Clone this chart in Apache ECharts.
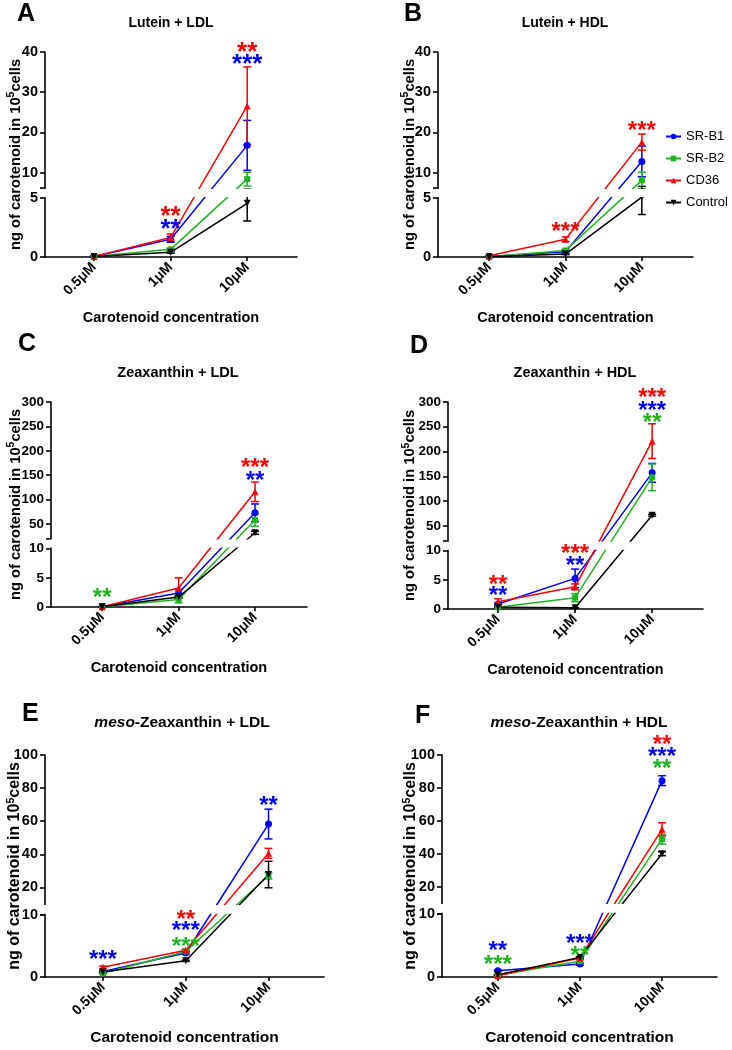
<!DOCTYPE html>
<html><head><meta charset="utf-8">
<script src="https://cdn.jsdelivr.net/npm/echarts@6/dist/echarts.min.js"></script>
<style>html,body{margin:0;padding:0;background:#fff}#c{width:732px;height:1050px}</style>
</head><body><div id="c"></div><script>
// ---------- data ----------
const categories = ['0.5μM', '1μM', '10μM'];
const seriesNames = ['SR-B1', 'SR-B2', 'CD36', 'Control'];
const seriesColors = ['#0000ff', '#1db51d', '#ff0000', '#000000'];

// broken y axis: [lowerMin, lowerMax, upperMin, upperMax]
const A_axis = [0, 5, 6.2, 40];   const A_lowTicks = [0, 5];  const A_upTicks = [10, 20, 30, 40];
const B_axis = [0, 5, 6.2, 40];   const B_lowTicks = [0, 5];  const B_upTicks = [10, 20, 30, 40];
const C_axis = [0, 10, 20, 300];  const C_lowTicks = [0, 5, 10]; const C_upTicks = [50, 100, 150, 200, 250, 300];
const D_axis = [0, 10, 20, 300];  const D_lowTicks = [0, 5, 10]; const D_upTicks = [50, 100, 150, 200, 250, 300];
const E_axis = [0, 10, 10, 100];  const E_lowTicks = [0, 10]; const E_upTicks = [20, 40, 60, 80, 100];
const F_axis = [0, 10, 10, 100];  const F_lowTicks = [0, 10]; const F_upTicks = [20, 40, 60, 80, 100];

// means per series (SR-B1, SR-B2, CD36, Control) at 0.5, 1, 10 µM
const A_means = [[0.05, 1.5, 16.8], [0.05, 0.65, 8.4], [0.05, 1.65, 26.6], [0.05, 0.4, 4.55]];
const A_errs  = [[0.03, 0.25, 6.2], [0.02, 0.1, 1.7], [0.02, 0.3, 9.7], [0.02, 0.08, 1.5]];
const B_means = [[0.05, 0.45, 12.8], [0.03, 0.55, 8.1], [0.1, 1.5, 17.6], [0.03, 0.25, 5.1]];
const B_errs  = [[0.02, 0.1, 3.8], [0.02, 0.1, 2.0], [0.02, 0.2, 2.0], [0.02, 0.05, 1.5]];
const C_means = [[0.05, 2.4, 73], [0.05, 1.3, 58], [0.05, 3.25, 116], [0.05, 1.7, 32]];
const C_errs  = [[0.02, 0.6, 18], [0.02, 0.6, 13], [0.02, 1.75, 20], [0.02, 0.15, 3]];
const D_means = [[0.85, 5.25, 157], [0.3, 1.95, 148], [1.25, 3.8, 221], [0.3, 0.2, 71.5]];
const D_errs  = [[0.2, 1.6, 19], [0.1, 0.7, 27], [0.5, 0.5, 35], [0.05, 0.05, 2]];
const E_means = [[0.9, 3.85, 58.3], [0.6, 4.1, 27.1], [1.55, 4.3, 40.6], [0.8, 2.6, 27.8]];
const E_errs  = [[0.1, 0.2, 9], [0.1, 0.2, 2], [0.2, 0.2, 3], [0.1, 0.1, 8]];
const F_means = [[1.0, 2.05, 84.4], [0.3, 2.5, 48.8], [0.2, 3.0, 54.8], [0.35, 3.1, 40]];
const F_errs  = [[0.1, 0.2, 3], [0.05, 0.2, 3], [0.05, 0.2, 4], [0.05, 0.1, 1.2]];

// significance marks: [category index, y value, text, colour series index]
const A_stars = [[1, 3.9, '**', 2], [1, 2.8, '**', 0], [2, 41.2, '**', 2], [2, 38.3, '***', 0]];
const B_stars = [[1, 2.57, '***', 2], [2, 21.6, '***', 2]];
const C_stars = [[0, 2.3, '**', 1], [2, 174, '***', 2], [2, 148.8, '**', 0]];
const D_stars = [[0, 5.0, '**', 2], [0, 3.0, '**', 0], [1, 11.7, '***', 2], [1, 8.3, '**', 0], [2, 317, '***', 2], [2, 291, '***', 0], [2, 267.7, '**', 1]];
const E_stars = [[0, 3.5, '***', 0], [1, 10, '**', 2], [1, 8.1, '***', 0], [1, 5.6, '***', 1], [2, 72.2, '**', 0]];
const F_stars = [[0, 4.95, '**', 0], [0, 2.6, '***', 1], [1, 6.0, '***', 0], [1, 4.05, '**', 1], [2, 109.1, '**', 2], [2, 102, '***', 0], [2, 94.5, '**', 1]];

const panelLetters = ['A', 'B', 'C', 'D', 'E', 'F'];
const panelTitles = ['Lutein + LDL', 'Lutein + HDL', 'Zeaxanthin + LDL', 'Zeaxanthin + HDL', '{i|meso}-Zeaxanthin + LDL', '{i|meso}-Zeaxanthin + HDL'];
const yName = 'ng of carotenoid in 10{sup|5}cells';
const xName = 'Carotenoid concentration';

// ---------- layout ----------
const FONT = '"Liberation Sans", Arial, sans-serif';
const symbols = ['circle', 'rect', 'triangle', 'triangle'];
const symRot = [0, 0, 0, 180];
const symSize = [7, 6, 7, 7];

const panelData = [
  {axis: A_axis, low: A_lowTicks, up: A_upTicks, means: A_means, errs: A_errs, stars: A_stars},
  {axis: B_axis, low: B_lowTicks, up: B_upTicks, means: B_means, errs: B_errs, stars: B_stars},
  {axis: C_axis, low: C_lowTicks, up: C_upTicks, means: C_means, errs: C_errs, stars: C_stars},
  {axis: D_axis, low: D_lowTicks, up: D_upTicks, means: D_means, errs: D_errs, stars: D_stars},
  {axis: E_axis, low: E_lowTicks, up: E_upTicks, means: E_means, errs: E_errs, stars: E_stars},
  {axis: F_axis, low: F_lowTicks, up: F_upTicks, means: F_means, errs: F_errs, stars: F_stars}
];
const layout = [
  {grid: {left: 45, top: 52, width: 252, height: 205}, h: [59, 10, 136], xr: [-0.64, 2.65], yGap: 20, letter: [17, 14], title: [171, 23], starSize: 26, tickFont: 14.5, titleFont: 14, nameFont: 14.5, yNameFont: 14.7},
  {grid: {left: 438, top: 52, width: 255, height: 205}, h: [59, 10, 136], xr: [-0.67, 2.67], yGap: 19, letter: [404, 14], title: [565, 23], starSize: 24, tickFont: 14.5, titleFont: 14, nameFont: 14.5, yNameFont: 14.7},
  {grid: {left: 51, top: 402, width: 256, height: 205}, h: [58.4, 10, 136.6], xr: [-0.67, 2.68], yGap: 26, letter: [18, 344], title: [178, 373], starSize: 24, tickFont: 13.5, titleFont: 14.5, nameFont: 14.5, yNameFont: 14.7},
  {grid: {left: 448, top: 402, width: 255, height: 207}, h: [58.3, 10, 138.7], xr: [-0.65, 2.66], yGap: 28.5, letter: [410, 346], title: [575, 373], starSize: 24, tickFont: 13.5, titleFont: 14.5, nameFont: 14.5, yNameFont: 14.7},
  {grid: {left: 45, top: 755, width: 279, height: 222}, h: [62.3, 10.7, 149], xr: [-0.70, 2.67], yGap: 20.5, letter: [22, 714], title: [182, 723], starSize: 24, tickFont: 14.5, titleFont: 15.5, nameFont: 15.5, yNameFont: 16},
  {grid: {left: 442, top: 755, width: 275, height: 222}, h: [63.3, 10.7, 148], xr: [-0.68, 2.67], yGap: 21.5, letter: [415, 716], title: [579, 723], starSize: 24, tickFont: 14.5, titleFont: 15.5, nameFont: 15.5, yNameFont: 16}
];

function makeT(ax, h) {
  const L = ax[1], U = ax[2], M = ax[3];
  return function (v) {
    if (v <= L) return v / L * h[0];
    if (v < U) return h[0] + (v - L) / (U - L) * h[1];
    return h[0] + h[1] + (v - U) / (M - U) * h[2];
  };
}

const grids = [], xAxes = [], yAxes = [], series = [], graphics = [];
const axisLineStyle = {color: '#000', width: 1.6};

panelData.forEach((pd, i) => {
  const lay = layout[i];
  const t = makeT(pd.axis, lay.h);
  const total = lay.h[0] + lay.h[1] + lay.h[2];
  const yLabel = {color: '#000', fontFamily: FONT, fontWeight: 'bold', fontSize: lay.tickFont};
  const xLabel = {color: '#000', fontFamily: FONT, fontWeight: 'bold', fontSize: 14};
  grids.push(Object.assign({containLabel: false, outerBoundsMode: 'none'}, lay.grid));

  xAxes.push({
    type: 'value', gridIndex: i, min: lay.xr[0], max: lay.xr[1],
    axisLine: {show: true, onZero: false, lineStyle: axisLineStyle},
    axisTick: {show: true, length: 4, customValues: [0, 1, 2], lineStyle: axisLineStyle},
    axisLabel: Object.assign({customValues: [0, 1, 2], rotate: 45, margin: 8,
      formatter: v => categories[Math.round(v)]}, xLabel),
    splitLine: {show: false},
    name: xName, nameLocation: 'middle', nameGap: 53, nameMoveOverlap: false,
    nameTextStyle: {color: '#000', fontFamily: FONT, fontWeight: 'bold', fontSize: lay.nameFont}
  });

  const labelMap = {};
  const labVals = [];
  pd.low.concat(pd.up).forEach(v => { const tv = t(v); labVals.push(tv); labelMap[Math.round(tv * 100)] = String(v); });
  const tickVals = labVals.concat([t(pd.axis[2])]);
  yAxes.push({
    type: 'value', gridIndex: i, min: 0, max: total,
    axisLine: {show: true, onZero: false, lineStyle: axisLineStyle},
    axisTick: {show: true, length: 5, customValues: tickVals, lineStyle: axisLineStyle},
    axisLabel: Object.assign({customValues: labVals, margin: 7,
      formatter: v => labelMap[Math.round(v * 100)] || ''}, yLabel),
    splitLine: {show: false},
    name: yName, nameLocation: 'middle', nameRotate: 90, nameGap: lay.yGap, nameMoveOverlap: false,
    nameTextStyle: {color: '#000', fontFamily: FONT, fontWeight: 'bold', fontSize: lay.yNameFont,
      rich: {sup: {fontFamily: FONT, fontWeight: 'bold', fontSize: 10.5, color: '#000', padding: [0, 0, 8, 0]}}}
  });

  // lines
  pd.means.forEach((arr, s) => {
    series.push({
      type: 'line', name: seriesNames[s], xAxisIndex: i, yAxisIndex: i,
      data: arr.map((v, k) => [k, t(v)]),
      symbol: symbols[s], symbolSize: symSize[s], symbolRotate: symRot[s],
      lineStyle: {color: seriesColors[s], width: 1.5}, itemStyle: {color: seriesColors[s]},
      z: 2, clip: false, animation: false, emphasis: {disabled: true}
    });
  });
  // error bars
  pd.means.forEach((arr, s) => {
    const col = seriesColors[s];
    series.push({
      type: 'custom', name: seriesNames[s] + ' err', xAxisIndex: i, yAxisIndex: i,
      data: arr.map((v, k) => [k, t(Math.max(0, v - pd.errs[s][k])), t(v + pd.errs[s][k])]),
      encode: {x: 0, y: [1, 2]},
      renderItem: (params, api) => {
        const lo = api.coord([api.value(0), api.value(1)]);
        const hi = api.coord([api.value(0), api.value(2)]);
        const w = 4;
        const st = {stroke: col, lineWidth: 1.5};
        return {type: 'group', children: [
          {type: 'line', shape: {x1: lo[0], y1: lo[1], x2: hi[0], y2: hi[1]}, style: st},
          {type: 'line', shape: {x1: hi[0] - w, y1: hi[1], x2: hi[0] + w, y2: hi[1]}, style: st},
          {type: 'line', shape: {x1: lo[0] - w, y1: lo[1], x2: lo[0] + w, y2: lo[1]}, style: st}
        ]};
      },
      z: 2, clip: false, animation: false, silent: true
    });
  });
  // break gap (white band hides everything between the two axis segments)
  series.push({
    type: 'custom', xAxisIndex: i, yAxisIndex: i, data: [[0, 0]],
    renderItem: (params, api) => {
      const cs = params.coordSys;
      const yLow = api.coord([0, lay.h[0]])[1];
      const yUp = api.coord([0, lay.h[0] + lay.h[1]])[1];
      return {type: 'rect', shape: {x: cs.x - 1.5, y: yUp + 1, width: cs.width + 10, height: yLow - yUp - 2},
        style: {fill: '#ffffff'}};
    },
    z: 4, clip: false, silent: true, animation: false
  });
  // significance stars
  const stars = pd.stars;
  series.push({
    type: 'custom', xAxisIndex: i, yAxisIndex: i,
    data: stars.map(s => [s[0], t(s[1])]),
    renderItem: (params, api) => {
      const st = stars[params.dataIndex];
      const p = api.coord([api.value(0), api.value(1)]);
      return {type: 'text', x: p[0], y: p[1] + 0.22 * lay.starSize,
        style: {text: st[2], fill: seriesColors[st[3]], fontFamily: FONT, fontWeight: 'bold',
          fontSize: lay.starSize, align: 'center', verticalAlign: 'middle', textAlign: 'center', textVerticalAlign: 'middle'}};
    },
    z: 6, clip: false, silent: true, animation: false
  });

  graphics.push({type: 'text', x: lay.letter[0], y: lay.letter[1], z: 10,
    style: {text: panelLetters[i], fill: '#000', fontFamily: FONT, fontWeight: 'bold', fontSize: 25,
      align: 'left', verticalAlign: 'middle', textAlign: 'left', textVerticalAlign: 'middle'}});
  graphics.push({type: 'text', x: lay.title[0], y: lay.title[1], z: 10,
    style: {text: panelTitles[i], fill: '#000', fontFamily: FONT, fontWeight: 'bold', fontSize: lay.titleFont,
      align: 'center', verticalAlign: 'middle', textAlign: 'center', textVerticalAlign: 'middle',
      rich: {i: {fontFamily: FONT, fontWeight: 'bold', fontStyle: 'italic', fontSize: lay.titleFont, fill: '#000', color: '#000'}}}});
});

const chart = echarts.init(document.getElementById('c'), null, {renderer: 'canvas'});
chart.setOption({
  backgroundColor: '#ffffff',
  animation: false,
  grid: grids, xAxis: xAxes, yAxis: yAxes, series: series,
  legend: {
    orient: 'vertical', left: 665, top: 130, padding: 0, itemWidth: 15, itemHeight: 7, itemGap: 9,
    data: seriesNames, selectedMode: false,
    textStyle: {color: '#000', fontFamily: FONT, fontSize: 13}
  },
  graphic: graphics
});
</script></body></html>
